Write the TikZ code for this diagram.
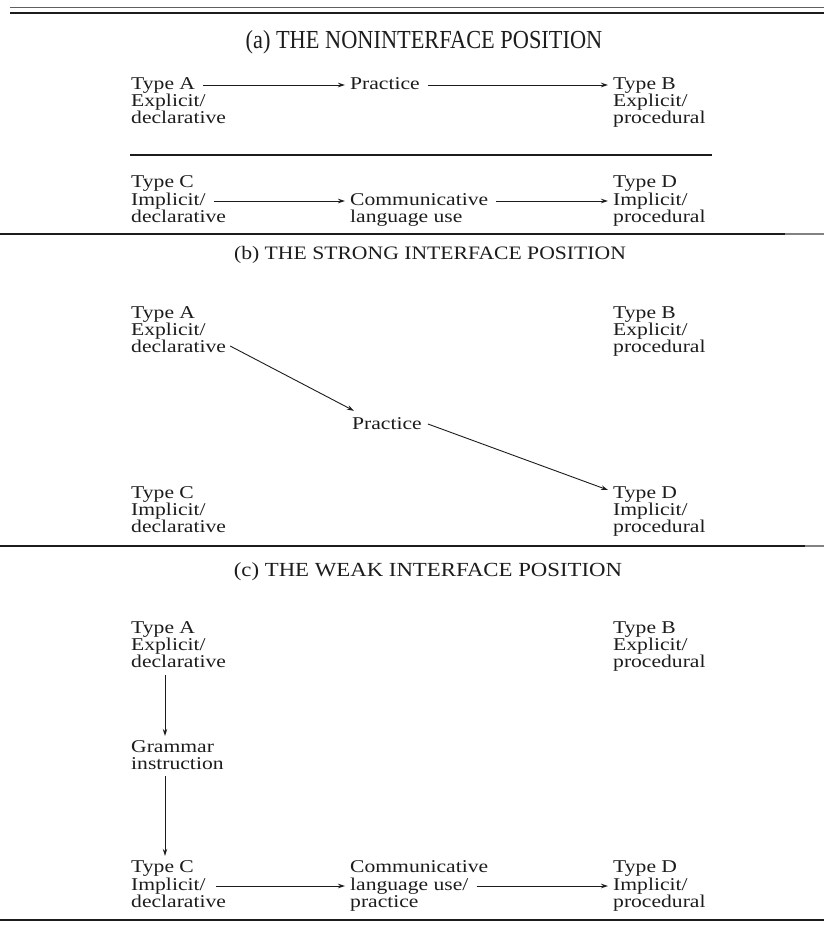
\documentclass[tikz,border=0pt]{standalone}
\usepackage{fontspec}
\setmainfont{Liberation Serif}[FakeStretch=1.2]
\newfontfamily\titleAfont{Liberation Serif}[FakeStretch=0.86]
\newfontfamily\titleBfont{Liberation Serif}[FakeStretch=1.14]
\usetikzlibrary{arrows.meta,calc}
\definecolor{ink}{HTML}{1C1C1C}
\tikzset{
  txt/.style={anchor=base west, inner sep=0pt, align=left, text=ink,
    font=\fontsize{18}{17}\selectfont},
  one/.style={txt, text height=12pt, text depth=4pt},
  ttl/.style={anchor=base, inner sep=0pt, text=ink},
  arr/.style={-{Stealth[length=7pt,width=4.5pt]}, line width=0.9pt, draw=ink},
  rule/.style={line width=#1, draw=ink},
}
\begin{document}
\begin{tikzpicture}[x=1pt,y=-1pt]
\useasboundingbox (0,0) rectangle (824,930);
% ---------- rules ----------
\draw[rule=0.7pt, draw=ink!70] (10,7) -- (824,7);
\draw[rule=2.2pt] (10,13) -- (824,13);
\draw[rule=2.4pt] (130,155) -- (712,155);
\draw[rule=1.2pt, draw=ink!55] (0,234) -- (824,234);
\draw[rule=1.8pt] (0,234) -- (785,234);
\draw[rule=1.2pt, draw=ink!55] (0,546) -- (824,546);
\draw[rule=1.8pt] (0,546) -- (805,546);
\draw[rule=1.5pt] (0,920) -- (824,920);
% ---------- (a) ----------
% (multi-line nodes are placed by the baseline of their last line)
\node[ttl, font=\titleAfont\fontsize{26}{28}\selectfont] (tA) at (424,48) {(a) THE NONINTERFACE POSITION};
\node[one] (aA) at (131,89) {Type A};
\node[txt] (aAd) at (131,123) {Explicit/\\declarative};
\node[one] (aP) at (350,89) {Practice};
\node[one] (aB) at (613,89) {Type B};
\node[txt] (aBd) at (613,123) {Explicit/\\procedural};
\draw[arr] ($(aA.east)+(8,0)$) -- ($(aP.west)+(-5,0)$);
\draw[arr] ($(aP.east)+(8,0)$) -- ($(aB.west)+(-5,0)$);
\node[one] (bC) at (131,187) {Type C};
\node[one] (bCi) at (131,205) {Implicit/};
\node[one] (bCd) at (131,222) {declarative};
\node[one] (bCom) at (350,205) {Communicative};
\node[one] (bLang) at (350,222) {language use};
\node[one] (bD) at (613,187) {Type D};
\node[one] (bDi) at (613,205) {Implicit/};
\node[one] (bDp) at (613,222) {procedural};
\draw[arr] ($(bCi.east)+(8,0)$) -- ($(bCom.west)+(-5,0)$);
\draw[arr] ($(bCom.east)+(8,0)$) -- ($(bDi.west)+(-5,0)$);
% ---------- (b) ----------
\node[ttl, font=\titleBfont\fontsize{19}{21}\selectfont] (tB) at (430,259) {(b) THE STRONG INTERFACE POSITION};
\node[txt] (cA) at (131,335) {Type A\\Explicit/};
\node[one] (cAd) at (131,352) {declarative};
\node[txt] (cB) at (613,352) {Type B\\Explicit/\\procedural};
\node[one] (cP) at (352,429) {Practice};
\node[txt] (cC) at (131,532) {Type C\\Implicit/\\declarative};
\node[txt] (cD) at (613,532) {Type D\\Implicit/\\procedural};
\draw[arr] ($(cAd.east)+(4,-2)$) -- ($(cP.north west)+(2,-6)$);
\draw[arr] ($(cP.east)+(6,-1)$) -- ($(cD.north west)+(-5,4)$);
% ---------- (c) ----------
\node[ttl, font=\titleBfont\fontsize{20}{22}\selectfont] (tC) at (428,576) {(c) THE WEAK INTERFACE POSITION};
\node[txt] (dA) at (131,667) {Type A\\Explicit/\\declarative};
\node[txt] (dB) at (613,667) {Type B\\Explicit/\\procedural};
\node[txt] (dG) at (131,769) {Grammar\\instruction};
\node[one] (dC) at (131,872) {Type C};
\node[one] (dCi) at (131,890) {Implicit/};
\node[one] (dCd) at (131,907) {declarative};
\node[one] (dCom) at (350,872) {Communicative};
\node[one] (dLang) at (350,890) {language use/};
\node[one] (dPr) at (350,907) {practice};
\node[one] (dD) at (613,872) {Type D};
\node[one] (dDi) at (613,890) {Implicit/};
\node[one] (dDp) at (613,907) {procedural};
\draw[arr] ($(dA.south west)+(34,8)$) -- ($(dG.north west)+(34,-4)$);
\draw[arr] ($(dG.south west)+(34,7)$) -- ($(dC.north west)+(34,-4)$);
\draw[arr] ($(dCi.east)+(10,0)$) -- ($(dLang.west)+(-5,0)$);
\draw[arr] ($(dLang.east)+(8,0)$) -- ($(dDi.west)+(-5,0)$);
\end{tikzpicture}
\end{document}
